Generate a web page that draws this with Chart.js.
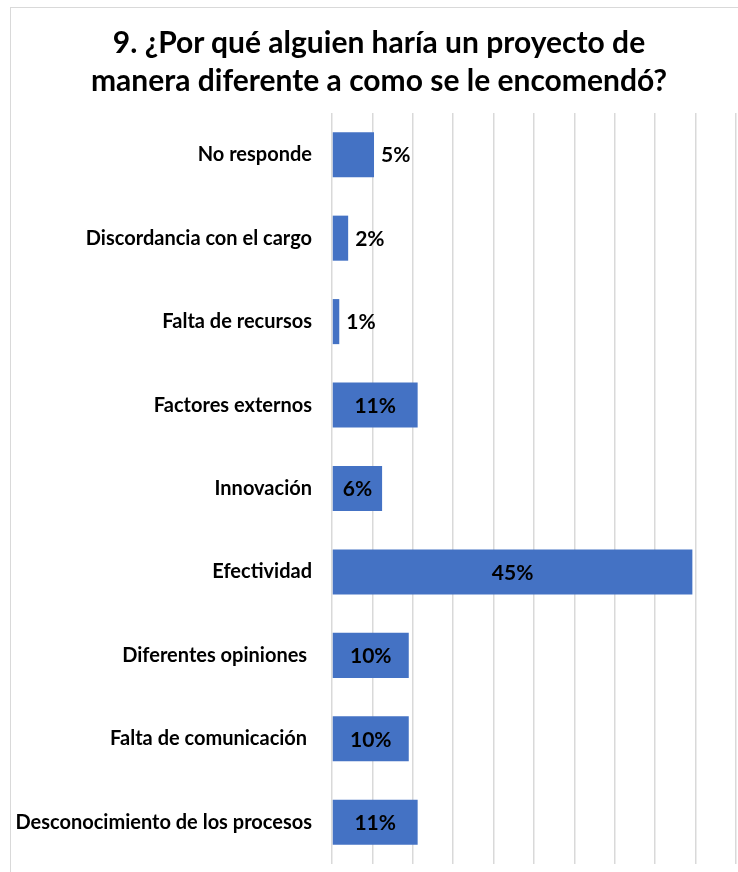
<!DOCTYPE html>
<html>
<head>
<meta charset="utf-8">
<script src="https://cdn.jsdelivr.net/npm/chart.js@4"></script>
<style>
  html, body { margin: 0; padding: 0; background: #fff; }
  body { width: 738px; height: 872px; position: relative; overflow: hidden; font-family: Lato, "Noto Sans", sans-serif; }
  #frame { position: absolute; left: 10px; top: 7px; width: 800px; height: 900px; border-left: 1px solid #d9d9d9; border-top: 1px solid #d9d9d9; }
  #title { position: absolute; left: 10px; width: 738px; top: 22px; text-align: center; font-weight: bold; font-size: 30px; line-height: 38px; color: #000; }
  #wrap { position: absolute; left: 0; top: 0; width: 738px; height: 872px; }
</style>
</head>
<body>
<div id="frame"></div>
<div id="wrap"><canvas id="chart"></canvas></div>
<div id="title">9. ¿Por qué alguien haría un proyecto de<br>manera diferente a como se le encomendó?</div>
<script>
  // valores (porcentaje)
  const categories = [
    "No responde",
    "Discordancia con el cargo",
    "Falta de recursos",
    "Factores externos",
    "Innovación",
    "Efectividad",
    "Diferentes opiniones ",
    "Falta de comunicación ",
    "Desconocimiento de los procesos",
  ];
  const values = [5.2, 2.0, 0.9, 10.6, 6.2, 44.6, 9.5, 9.5, 10.6];
  const AXIS_MAX = 50;
  const AXIS_STEP = 5;

  const BAR_COLOR = "#4472C4";
  const GRID_COLOR = "#d9d9d9";

  // etiquetas de datos tipo "ajuste perfecto" de Excel
  const barLabels = {
    id: "barLabels",
    afterDatasetsDraw(chart) {
      const ctx = chart.ctx;
      const meta = chart.getDatasetMeta(0);
      ctx.save();
      ctx.font = "bold 21px Lato, 'Noto Sans', sans-serif";
      ctx.fillStyle = "#000";
      ctx.textBaseline = "middle";
      meta.data.forEach((bar, i) => {
        const text = Math.round(values[i]) + "%";
        const w = ctx.measureText(text).width;
        const len = bar.x - bar.base;
        if (w + 14 < len) {
          ctx.textAlign = "center";
          ctx.fillText(text, (bar.x + bar.base) / 2, bar.y + 1);
        } else {
          ctx.textAlign = "left";
          ctx.fillText(text, bar.x + 7, bar.y + 1);
        }
      });
      ctx.restore();
    },
  };

  new Chart(document.getElementById("chart"), {
    type: "bar",
    data: {
      labels: categories,
      datasets: [
        {
          data: values,
          backgroundColor: BAR_COLOR,
          borderWidth: 0,
          categoryPercentage: 1,
          barPercentage: 0.54,
        },
      ],
    },
    options: {
      indexAxis: "y",
      responsive: true,
      maintainAspectRatio: false,
      animation: false,
      layout: { padding: { top: 113, right: 2, bottom: 8, left: 0 } },
      plugins: { legend: { display: false }, tooltip: { enabled: false } },
      scales: {
        x: {
          min: 0,
          max: AXIS_MAX,
          ticks: { stepSize: AXIS_STEP, display: false },
          grid: { color: GRID_COLOR, lineWidth: 1.5, drawTicks: false },
          border: { display: false },
          afterFit(scale) {
            scale.height = 0;
          },
        },
        y: {
          grid: { display: false, drawTicks: false },
          border: { display: false },
          ticks: {
            color: "#000",
            padding: 20,
            font: { family: "Lato, 'Noto Sans', sans-serif", size: 20, weight: "bold" },
          },
          afterFit(scale) {
            scale.width = 332;
            scale.paddingTop = 0;
            scale.paddingBottom = 0;
          },
        },
      },
    },
    plugins: [barLabels],
  });
</script>
</body>
</html>
